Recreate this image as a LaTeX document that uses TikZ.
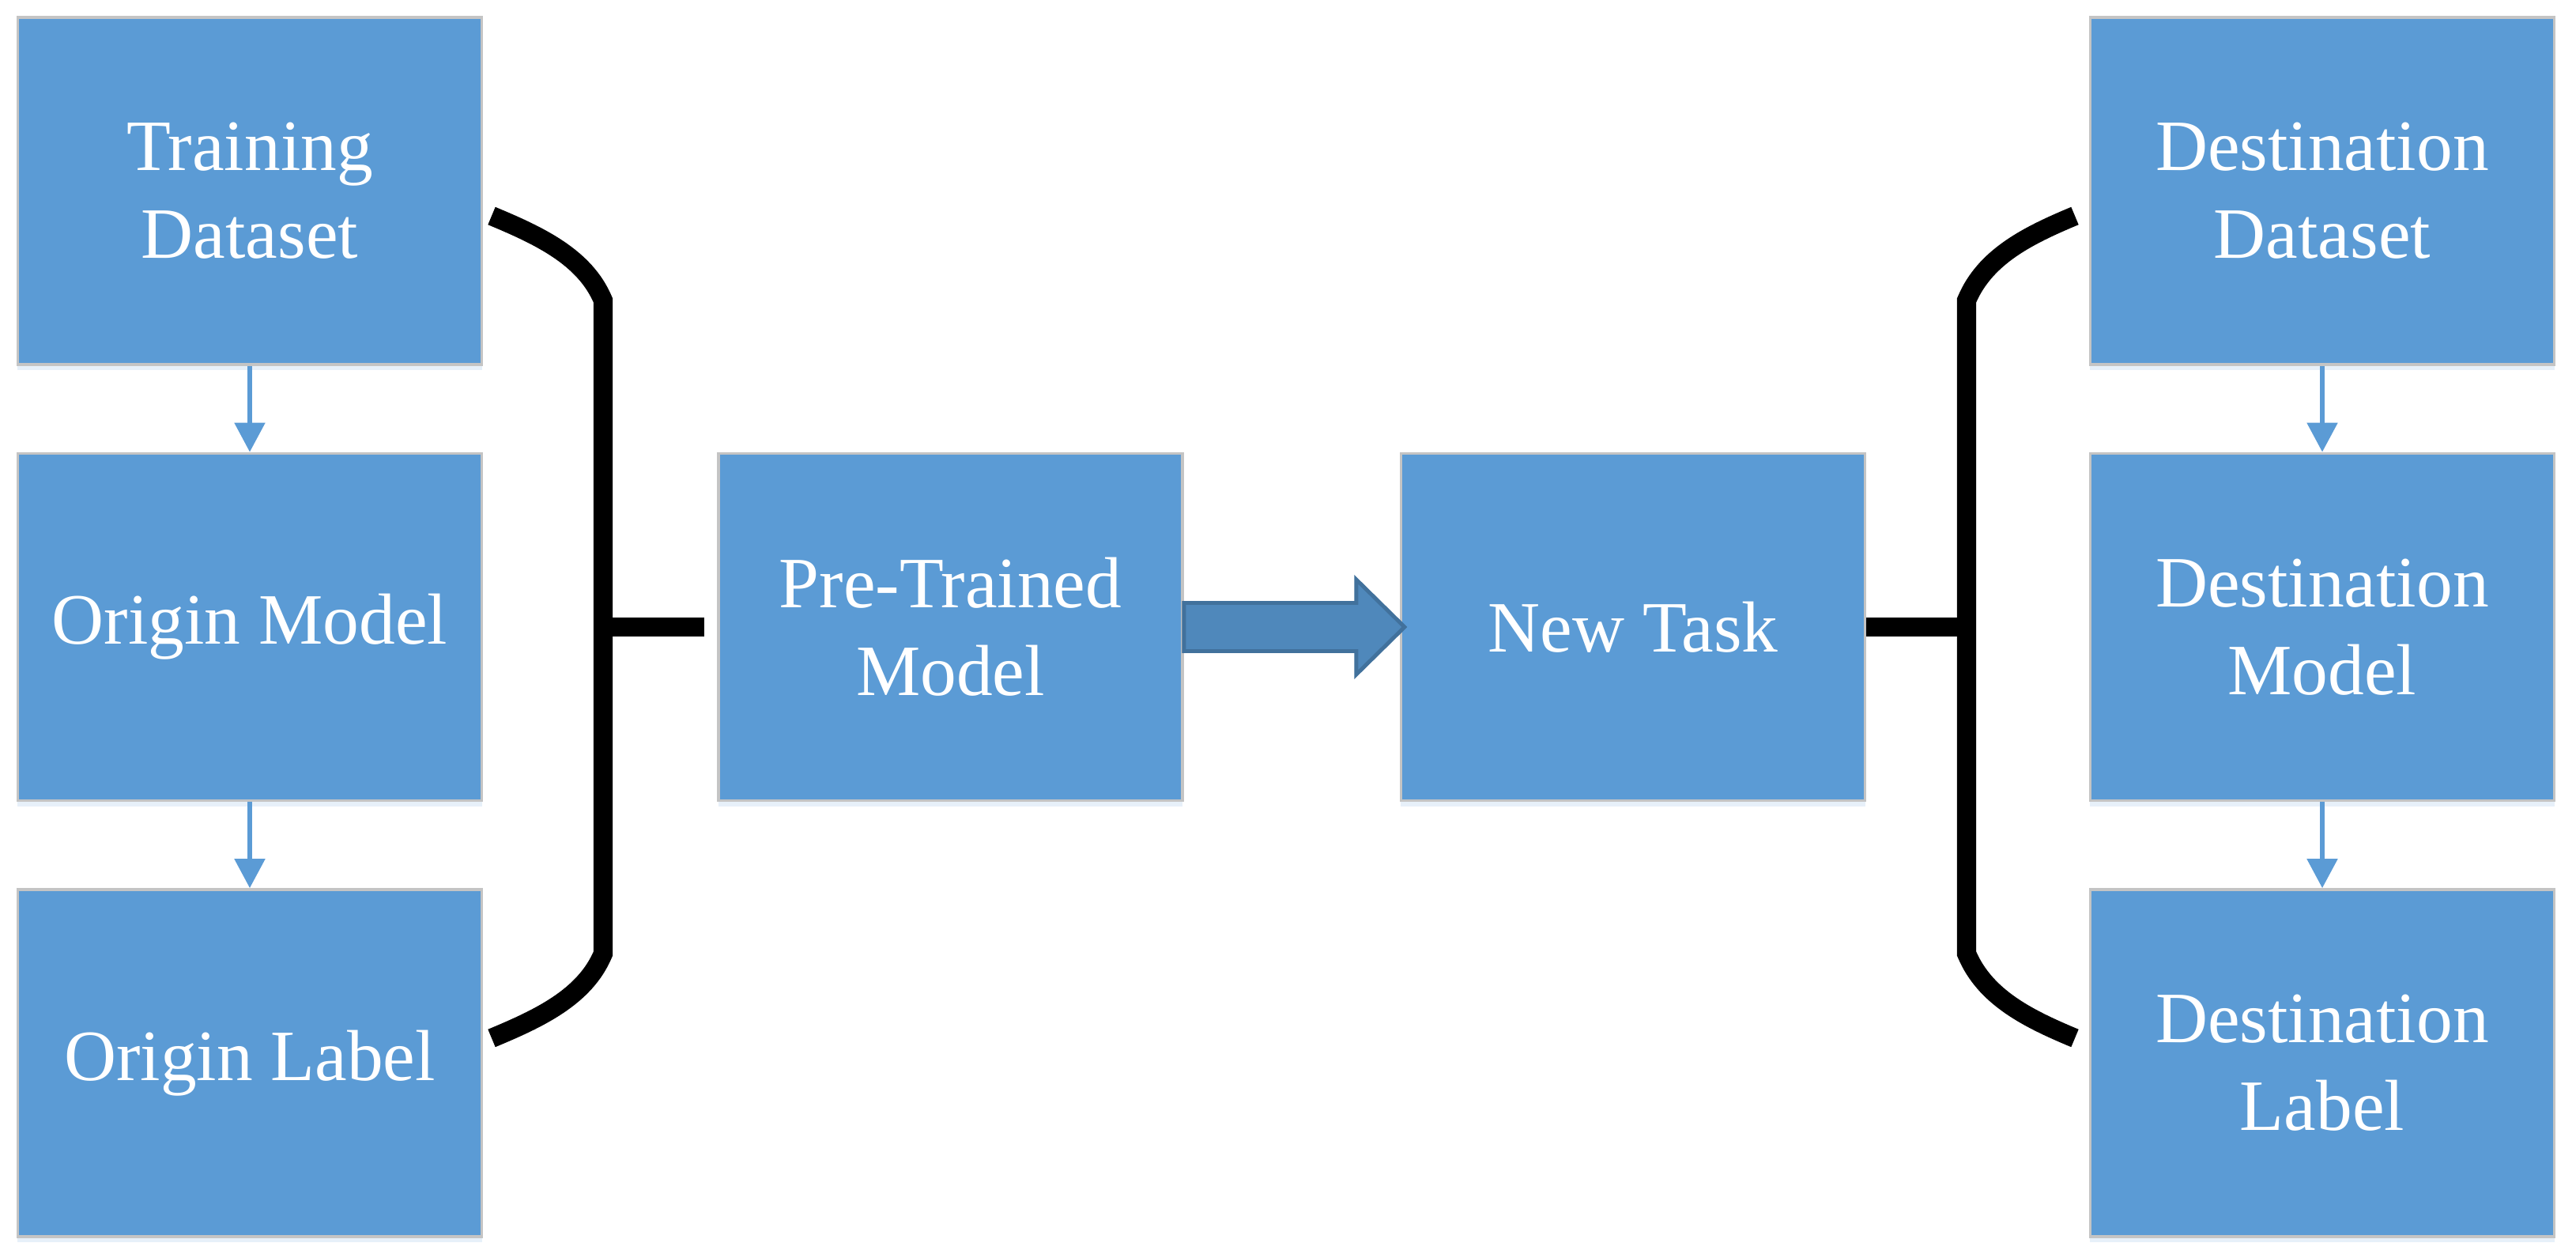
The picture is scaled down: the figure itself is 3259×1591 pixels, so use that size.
\documentclass[tikz,border=0pt]{standalone}
\usepackage{fontspec}
\setmainfont{Liberation Serif}
\usetikzlibrary{arrows.meta,shadows}
\definecolor{boxblue}{HTML}{5B9BD5}
\definecolor{boxgray}{HTML}{C4C4C4}
\definecolor{arrfill}{HTML}{4F88BB}
\definecolor{arrline}{HTML}{41719C}
\tikzset{
  blk/.style={rectangle, fill=boxblue, draw=boxgray, line width=1pt,
    minimum width=5.87cm, minimum height=4.39cm, inner sep=0pt,
    text=white, align=center, font=\fontsize{26}{31.5}\selectfont,
    drop shadow={shadow xshift=0cm, shadow yshift=-0.07cm, fill=boxblue, opacity=0.15}},
  flow/.style={draw=boxblue, line width=1.5pt, -{Triangle[length=10.5pt,width=10.8pt]}},
  brk/.style={draw=black, line width=6.9pt},
  bar/.style={draw=black, line width=6.9pt},
  barrow/.style={fill=arrfill, draw=arrline, line width=1.4pt, line join=miter}
}
\begin{document}
\begin{tikzpicture}[x=0.01cm,y=-0.01cm]
\useasboundingbox (0,0) rectangle (3259,1591);
% left column
\node[blk] (td) at (316,241.5) {Training\\Dataset};
\node[blk] (om) at (316,793) {Origin Model};
\node[blk] (ol) at (316,1344.5) {Origin Label};
% middle
\node[blk] (pt) at (1202.5,793) {Pre-Trained\\Model};
\node[blk] (nt) at (2066,793) {New Task};
% right column
\node[blk] (dd) at (2938,241.5) {Destination\\Dataset};
\node[blk] (dm) at (2938,793) {Destination\\Model};
\node[blk] (dl) at (2938,1344.5) {Destination\\Label};
% vertical flows
\draw[flow] (td.south) -- (om.north);
\draw[flow] (om.south) -- (ol.north);
\draw[flow] (dd.south) -- (dm.north);
\draw[flow] (dm.south) -- (dl.north);
% left bracket
\coordinate (lt) at (622,273);
\coordinate (lvt) at (763,380);
\coordinate (lvb) at (763,1206);
\coordinate (lb) at (622,1313);
\coordinate (lm) at (763,793);
\draw[brk] (lt) .. controls (682,298) and (740,325) .. (lvt) -- (lvb)
  .. controls (740,1261) and (682,1288) .. (lb);
\draw[bar] (lm) -- ([xshift=-0.16cm]pt.west);
% right bracket
\coordinate (rt) at (2625,273);
\coordinate (rvt) at (2488,380);
\coordinate (rvb) at (2488,1206);
\coordinate (rb) at (2625,1313);
\coordinate (rm) at (2488,793);
\draw[brk] (rt) .. controls (2565,298) and (2511,325) .. (rvt) -- (rvb)
  .. controls (2511,1261) and (2565,1288) .. (rb);
\draw[bar] (nt.east) -- (rm);
% block arrow
\path (pt.east) coordinate (as);
\draw[barrow] (as) ++(0,-30.5) -- ++(218,0) -- ++(0,-29.5) -- ++(61,60)
  -- ++(-61,60) -- ++(0,-29.5) -- ++(-218,0) -- cycle;
\end{tikzpicture}
\end{document}
